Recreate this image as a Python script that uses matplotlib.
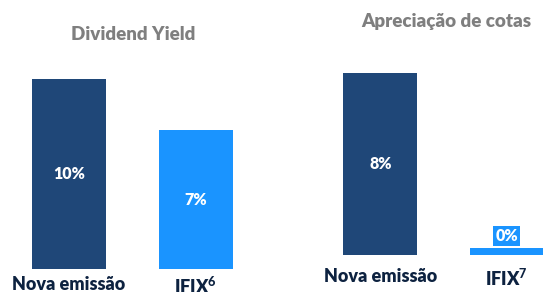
import matplotlib
matplotlib.use("Agg")
import matplotlib.pyplot as plt

plt.rcParams['font.family'] = ['Lato', 'DejaVu Sans']
plt.rcParams['mathtext.fontset'] = 'custom'
plt.rcParams['mathtext.bf'] = 'Lato:black'
plt.rcParams['mathtext.rm'] = 'Lato'

# dados
categorias_dy = ["Nova emissão", r"IFIX$^\mathbf{6}$"]
valores_dy = [9.6, 7.0]
categorias_ap = ["Nova emissão", r"IFIX$^\mathbf{7}$"]
valores_ap = [8.0, 0.3]
titulos = ["Dividend Yield", "Apreciação de cotas"]

cores = ["#1F4778", "#1A94FF"]
cor_titulo = "#7F7F7F"
cor_texto = "#0D2240"

W, H = 543, 292
fig = plt.figure(figsize=(W / 100, H / 100), dpi=100)

def px_axes(x0, x1, ybot, ytop):
    return fig.add_axes([x0 / W, 1 - ybot / H, (x1 - x0) / W, (ybot - ytop) / H])

# painel esquerdo
ax1 = px_axes(5.5, 259.5, 269, 269 - 12 * 19.8)
ax1.set_xlim(-0.5, 1.5)
ax1.set_ylim(0, 12)
ax1.bar([0, 1], valores_dy, width=0.583, color=cores)
for i, v in enumerate(valores_dy):
    ax1.text(i, v / 2, "%.0f%%" % v, ha="center", va="center", color="white",
             fontsize=11.5, fontweight="heavy")
ax1.set_xticks([0, 1])
ax1.set_xticklabels(categorias_dy, fontsize=13, fontweight="heavy", color=cor_texto)
ax1.tick_params(axis="x", length=0, pad=5)
ax1.set_yticks([])
for s in ax1.spines.values():
    s.set_visible(False)

# painel direito
ax2 = px_axes(317, 317 + 2 * 126.5, 255, 255 - 10 * 22.75)
ax2.set_xlim(-0.5, 1.5)
ax2.set_ylim(0, 10)
ax2.bar([0, 1], valores_ap, width=0.585, color=cores)
ax2.text(0, valores_ap[0] / 2, "%.0f%%" % valores_ap[0], ha="center", va="center",
         color="white", fontsize=11.5, fontweight="heavy")
ax2.text(1, valores_ap[1] + 0.55, "%.0f%%" % valores_ap[1], ha="center", va="center",
         color="white", fontsize=11.5, fontweight="heavy",
         bbox=dict(facecolor=cores[1], edgecolor="none", pad=1.5))
ax2.set_xticks([0, 1])
ax2.set_xticklabels(categorias_ap, fontsize=13, fontweight="heavy", color=cor_texto)
ax2.tick_params(axis="x", length=0, pad=9)
ax2.set_yticks([])
for s in ax2.spines.values():
    s.set_visible(False)

fig.text(133 / W, 1 - 35 / H, titulos[0], ha="center", va="center",
         fontsize=13.5, fontweight="heavy", color=cor_titulo)
fig.text(446 / W, 1 - 21 / H, titulos[1], ha="center", va="center",
         fontsize=13.5, fontweight="heavy", color=cor_titulo)

fig.savefig("out.png", dpi=100)
